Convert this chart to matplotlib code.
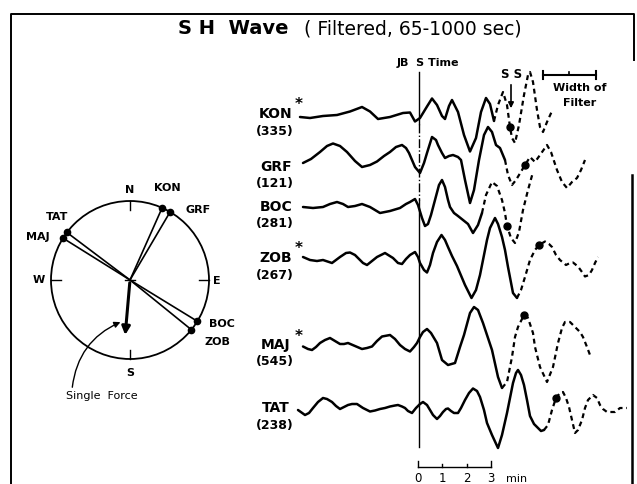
import numpy as np
import matplotlib
matplotlib.use("Agg")
import matplotlib.pyplot as plt
from matplotlib.patches import Circle, FancyArrowPatch

# ---------------------------------------------------------------------------
# data (page pixel units, y grows downward)

stations = ["KON", "GRF", "BOC", "ZOB", "MAJ", "TAT"]
distances = ["(335)", "(121)", "(281)", "(267)", "(545)", "(238)"]
starred = [True, False, False, True, True, False]
label_y = [114, 167, 207, 258, 345, 408]

# solid part and dashed part of every trace
kon_solid = [(300, 117), (310, 118), (323, 116), (337, 115), (350, 111.5), (362, 107),
             (370, 111.5), (378, 119), (390, 117), (403, 113), (410, 112.5), (415, 121.5),
             (420, 118), (427, 106.5), (432, 98.5), (437, 105), (442, 116), (445, 119),
             (449, 106), (452, 100), (458, 112), (464, 135), (470, 151.5), (476, 138),
             (481, 112), (486, 98), (490, 104), (494, 121)]
kon_dash = [(494, 121), (498, 105), (503, 92), (507, 105), (510, 127), (512, 138),
            (515, 143), (519, 125), (524, 95), (528, 75), (530, 72), (533, 82),
            (537, 110), (540, 127), (543, 132), (547, 122), (552, 111)]

grf_solid = [(303, 163), (311, 159), (320, 152), (327, 146), (333, 143.5), (340, 146),
             (347, 152), (355, 161), (362, 167), (370, 165), (377, 161.5), (384, 156),
             (390, 152), (396, 147), (402, 145), (406, 148), (409, 153), (412, 160),
             (415, 167), (420, 173), (424, 163), (427, 153), (432, 137), (436, 140),
             (438, 145), (442, 153), (445, 158), (449, 156), (453, 155), (458, 157),
             (461, 160), (465, 180), (470, 203), (474, 190), (479, 160), (484, 135),
             (488, 127), (492, 132), (496, 145), (500, 148), (505, 160)]
grf_dash = [(505, 160), (508, 175), (512, 185), (516, 180), (522, 170), (525, 165),
            (530, 157), (535, 162), (540, 155), (547, 145), (551, 152), (557, 170),
            (562, 182), (567, 188), (572, 182), (577, 178), (581, 170), (585, 160)]

boc_solid = [(303, 207), (313, 208), (323, 207), (330, 204), (337, 202), (343, 204),
             (348, 207), (355, 206), (362, 204), (370, 207), (380, 213), (390, 211),
             (400, 208), (406, 204), (410, 202), (415, 199), (418, 205), (422, 218),
             (425, 226), (428, 224), (431, 215), (435, 200), (439, 185), (442, 180),
             (445, 187), (448, 200), (450, 207), (454, 213), (458, 216), (463, 220),
             (468, 224), (473, 233), (478, 225), (482, 213)]
boc_dash = [(482, 213), (486, 195), (492, 182), (497, 186), (502, 200), (505, 213),
            (507, 226), (511, 238), (515, 243), (519, 232), (523, 210), (528, 190),
            (533, 172)]

zob_solid = [(303, 257), (310, 260), (317, 261), (323, 260), (332, 263), (340, 257),
             (346, 253), (350, 252.5), (355, 255), (358, 258), (363, 263), (367, 265),
             (372, 261), (377, 257), (385, 253), (393, 258), (398, 263), (402, 264),
             (406, 259), (410, 255), (415, 252), (418, 257), (420, 263), (424, 270),
             (427, 272.5), (430, 265), (433, 253), (437, 242), (441.5, 235), (445, 240),
             (448, 247), (452, 256), (457, 266), (465, 285), (471.5, 298), (476, 290),
             (480, 275), (483, 260), (487, 240), (490, 228), (495, 218), (498, 224),
             (502, 237), (505, 250), (508, 267), (513, 293), (517, 298)]
zob_dash = [(517, 298), (521, 290), (525, 277), (530, 260), (535, 250), (539, 245),
            (545, 241.5), (549, 244), (552, 247), (556, 255), (560, 260), (566, 265),
            (570, 263), (573, 262.5), (578, 266.5), (582, 272), (585, 276.5), (589, 275),
            (592, 270), (595, 263), (598, 257)]

maj_solid = [(303, 346.5), (308, 349), (312, 350), (316, 347), (320, 343), (325, 340),
             (330, 338), (335, 341), (340, 344), (344, 344), (348, 343), (355, 346),
             (362, 349), (367, 348), (372, 346.5), (377, 341), (382, 336.5), (390, 335),
             (395, 339), (400, 345), (405, 349), (410, 351.5), (414, 347), (417, 343),
             (420, 337), (423, 332), (427, 329), (431, 333), (437, 343), (442, 360),
             (448, 365), (455, 363), (460, 347), (464, 335), (467, 324), (470, 313),
             (474, 307), (478, 310), (483, 323), (487, 335), (492, 350), (498, 377),
             (502, 388)]
maj_dash = [(502, 388), (507, 382), (512, 357), (515, 337), (518, 327), (524, 315),
            (528, 318), (533, 333), (535, 347), (540, 367), (547, 382), (553, 367),
            (558, 343), (562, 328), (565, 322), (570, 322), (575, 327), (580, 332),
            (583, 337), (587, 347), (590, 355)]

tat_solid = [(298, 410), (305, 415), (309, 413), (313, 408), (318, 402), (323, 398),
             (327, 399), (332, 402), (336, 406), (340, 409), (344, 407), (348, 405),
             (352, 404), (357, 404), (363, 408), (370, 411.5), (375, 410.5), (380, 409),
             (385, 408), (390, 406.5), (395, 405.5), (398, 405), (402, 406.5), (405, 408),
             (408, 411), (412, 413), (416, 408), (420, 404), (423, 402), (427, 405),
             (430, 410), (433, 415), (437, 419), (440, 416), (443, 412), (446, 409),
             (448, 408.5), (451, 411), (454, 413), (458, 413), (461, 408), (465, 400),
             (469, 393), (473, 388.5), (477, 391), (480, 397), (484, 410), (487, 423),
             (492, 435), (498, 448), (502, 435), (507, 413), (510, 398), (513, 383),
             (516, 373), (518, 370), (521, 375), (524, 385), (527, 400), (530, 416),
             (534, 424), (537, 427), (541, 431), (544, 430)]
tat_dash = [(544, 430), (548, 425), (552, 410), (556, 398), (560, 393), (563, 392),
            (566, 398), (569, 407), (572, 420), (575, 433), (578, 430), (582, 420),
            (585, 408), (588, 400), (593, 395), (597, 398), (600, 405), (603, 409),
            (607, 412), (611, 412), (615, 412), (620, 408), (624, 408), (627, 408)]

traces_solid = [kon_solid, grf_solid, boc_solid, zob_solid, maj_solid, tat_solid]
traces_dash = [kon_dash, grf_dash, boc_dash, zob_dash, maj_dash, tat_dash]
ss_dots = [(510, 127), (525, 165), (507, 226), (539, 245), (524, 315), (556, 398)]

# time scale
scale_ticks = [0, 1, 2, 3]
scale_x = [418, 442, 467, 491]

# focal sphere: station azimuths (deg) and the single force azimuth
azimuths = {"KON": 24, "GRF": 30.5, "TAT": 307, "MAJ": 302, "BOC": 121.5, "ZOB": 129}
force_az = 185
center = (130, 280)
radius = 79

# ---------------------------------------------------------------------------
fig = plt.figure(figsize=(6.37, 4.84), dpi=100)
ax = fig.add_axes([0, 0, 1, 1])
ax.set_xlim(0, 637)
ax.set_ylim(484, 0)
ax.axis("off")

# frame (the right edge fades out between y=60 and y=175 in the scan)
ax.plot([11, 11, 634, 634], [484, 14, 14, 60], color="k", lw=1.4)
ax.plot([632, 632], [175, 484], color="k", lw=1.8)

# title
ax.text(233, 29, "S H  Wave", ha="center", va="center", fontsize=14, fontweight="bold")
ax.text(413, 29, "( Filtered, 65-1000 sec)", ha="center", va="center", fontsize=13.5)

# traces
for sol, das in zip(traces_solid, traces_dash):
    xs, ys = zip(*sol)
    ax.plot(xs, ys, color="k", lw=1.8, solid_joinstyle="round", solid_capstyle="round")
    xs, ys = zip(*das)
    ax.plot(xs, ys, color="k", lw=1.6, linestyle=(0, (2.2, 1.7)))
for x, y in ss_dots:
    ax.plot(x, y, "o", color="k", ms=5)

# station labels
for name, dist, star, y in zip(stations, distances, starred, label_y):
    ax.text(276, y, name, ha="center", va="center", fontsize=10, fontweight="bold")
    if star:
        ax.text(295, y - 9, "*", ha="left", va="center", fontsize=11, fontweight="bold")
    ax.text(275, y + 17, dist, ha="center", va="center", fontsize=9, fontweight="bold")

# JB S time line
ax.plot([419, 419], [72, 124], color="k", lw=1.0)
ax.plot([419, 419], [124, 200], color="k", lw=1.0, linestyle="-.")
ax.plot([419, 419], [200, 447], color="k", lw=1.0)
ax.text(428, 63, "JB  S Time", ha="center", va="center", fontsize=8, fontweight="bold")

# SS arrow
ax.text(512, 75, "S S", ha="center", va="center", fontsize=8.5, fontweight="bold")
ax.annotate("", xy=(511, 111), xytext=(511, 82),
            arrowprops=dict(arrowstyle="-|>", color="k", lw=1.2, mutation_scale=8))

# width of filter bar
ax.plot([543, 596], [75, 75], color="k", lw=1.5)
for x in [543, 596]:
    ax.plot([x, x], [71, 79], color="k", lw=1.5)
ax.plot([569, 569], [72, 75], color="k", lw=1.2)
ax.text(580, 88, "Width of", ha="center", va="center", fontsize=8, fontweight="bold")
ax.text(580, 103, "Filter", ha="center", va="center", fontsize=8, fontweight="bold")

# time scale
ax.plot([scale_x[0], scale_x[-1]], [467, 467], color="k", lw=1.0)
for x, t in zip(scale_x, scale_ticks):
    h = 6 if t in (0, 3) else 3
    ax.plot([x, x], [467, 467 - h], color="k", lw=1.0)
    ax.text(x, 478, str(t), ha="center", va="center", fontsize=8.5)
ax.text(517, 479, "min", ha="center", va="center", fontsize=8)

# focal sphere
cx, cy = center
ax.add_patch(Circle(center, radius, fill=False, lw=1.3, color="k"))
ax.plot([cx, cx], [cy - radius, cy - radius + 9], color="k", lw=1.0)
ax.plot([cx, cx], [cy + radius, cy + radius - 9], color="k", lw=1.0)
ax.plot([cx - radius, cx - radius + 10], [cy, cy], color="k", lw=1.0)
ax.plot([cx + radius, cx + radius - 10], [cy, cy], color="k", lw=1.0)
ax.plot([cx - 5, cx + 5], [cy, cy], color="k", lw=1.0)
ax.text(cx, cy - radius - 11, "N", ha="center", va="center", fontsize=8, fontweight="bold")
ax.text(cx, cy + radius + 14, "S", ha="center", va="center", fontsize=8, fontweight="bold")
ax.text(cx - radius - 12, cy, "W", ha="center", va="center", fontsize=8, fontweight="bold")
ax.text(cx + radius + 8, cy + 1, "E", ha="center", va="center", fontsize=8, fontweight="bold")

label_pos = {"KON": (167, 188), "GRF": (198, 210), "TAT": (57, 217),
             "MAJ": (38, 237), "BOC": (222, 324), "ZOB": (217, 342)}
for name, az in azimuths.items():
    a = np.radians(az)
    px, py = cx + radius * np.sin(a), cy - radius * np.cos(a)
    ax.plot([cx, px], [cy, py], color="k", lw=1.2)
    ax.plot(px, py, "o", color="k", ms=4.5)
    lx, ly = label_pos[name]
    ax.text(lx, ly, name, ha="center", va="center", fontsize=8, fontweight="bold")

a = np.radians(force_az)
fx, fy = cx + 58 * np.sin(a), cy - 58 * np.cos(a)
ax.annotate("", xy=(fx, fy), xytext=center,
            arrowprops=dict(arrowstyle="-|>", color="k", lw=2.2, mutation_scale=12))

ax.add_patch(FancyArrowPatch((72, 390), (123, 321), connectionstyle="arc3,rad=-0.3",
                             arrowstyle="-|>", mutation_scale=9, color="k", lw=1.0))
ax.text(102, 396, "Single  Force", ha="center", va="center", fontsize=8)

fig.savefig("out.png", dpi=100)
